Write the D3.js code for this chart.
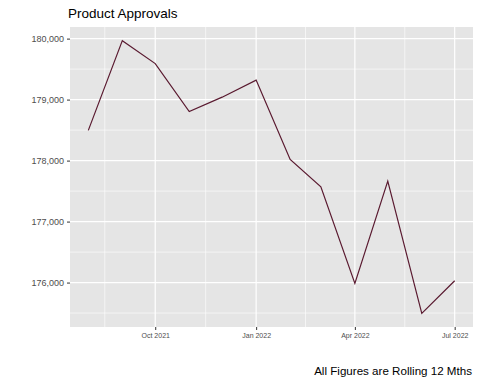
<!DOCTYPE html>
<html>
<head>
<meta charset="utf-8">
<script src="https://d3js.org/d3.v7.min.js"></script>
<style>
body { margin: 0; background: #fff; }
text { font-family: "Liberation Sans", Arial, sans-serif; }
</style>
</head>
<body>
<div id="chart"></div>
<script>
// monthly rolling totals
var months = ["2021-08-01", "2021-09-01", "2021-10-01", "2021-11-01", "2021-12-01", "2022-01-01",
              "2022-02-01", "2022-03-01", "2022-04-01", "2022-05-01", "2022-06-01", "2022-07-01"];
var approvals = [178495, 179967, 179590, 178803, 179040, 179320,
                 178020, 177570, 175987, 177664, 175495, 176030];
var xTicks = ["2021-10-01", "2022-01-01", "2022-04-01", "2022-07-01"];
var yTicks = [176000, 177000, 178000, 179000, 180000];

var W = 480, H = 384;
var margin = {top: 27, right: 7, bottom: 57, left: 70};
var width = W - margin.left - margin.right,
    height = H - margin.top - margin.bottom;

var parse = d3.timeParse("%Y-%m-%d");
var data = months.map(function(m, i) { return {date: parse(m), value: approvals[i]}; });

var svg = d3.select("#chart").append("svg")
  .attr("width", W).attr("height", H);

var g = svg.append("g")
  .attr("transform", "translate(" + margin.left + "," + margin.top + ")");

// ggplot-style 5% expansion
var xExt = d3.extent(data, function(d) { return d.date; });
var xPad = (xExt[1] - xExt[0]) * 0.05;
var x = d3.scaleTime()
  .domain([new Date(+xExt[0] - xPad), new Date(+xExt[1] + xPad)])
  .range([0, width]);

var yExt = d3.extent(approvals);
var yPad = (yExt[1] - yExt[0]) * 0.05;
var y = d3.scaleLinear()
  .domain([yExt[0] - yPad, yExt[1] + yPad])
  .range([height, 0]);

// panel
g.append("rect").attr("width", width).attr("height", height).attr("fill", "#e5e5e5");

var xMajor = xTicks.map(parse);
var xMinor = [];
for (var i = 0; i < xMajor.length - 1; i++) {
  xMinor.push(new Date((+xMajor[i] + +xMajor[i + 1]) / 2));
}
xMinor.unshift(new Date(+xMajor[0] - (xMajor[1] - xMajor[0]) / 2));
var yMinor = [];
for (var j = 0; j < yTicks.length - 1; j++) yMinor.push((yTicks[j] + yTicks[j + 1]) / 2);
yMinor.unshift(yTicks[0] - 500);

g.selectAll(".ymin").data(yMinor.filter(function(v) { return v > y.domain()[0]; })).enter().append("line")
  .attr("x1", 0).attr("x2", width)
  .attr("y1", function(d) { return y(d); }).attr("y2", function(d) { return y(d); })
  .attr("stroke", "#fff").attr("stroke-width", 0.6);
g.selectAll(".xmin").data(xMinor).enter().append("line")
  .attr("y1", 0).attr("y2", height)
  .attr("x1", function(d) { return x(d); }).attr("x2", function(d) { return x(d); })
  .attr("stroke", "#fff").attr("stroke-width", 0.6);
g.selectAll(".ymaj").data(yTicks).enter().append("line")
  .attr("x1", 0).attr("x2", width)
  .attr("y1", function(d) { return y(d); }).attr("y2", function(d) { return y(d); })
  .attr("stroke", "#fff").attr("stroke-width", 1.2);
g.selectAll(".xmaj").data(xMajor).enter().append("line")
  .attr("y1", 0).attr("y2", height)
  .attr("x1", function(d) { return x(d); }).attr("x2", function(d) { return x(d); })
  .attr("stroke", "#fff").attr("stroke-width", 1.2);

// line
var line = d3.line()
  .x(function(d) { return x(d.date); })
  .y(function(d) { return y(d.value); });
g.append("path").datum(data)
  .attr("d", line)
  .attr("fill", "none")
  .attr("stroke", "#5a1a30")
  .attr("stroke-width", 1.2);

// axes
var yAxis = g.append("g")
  .call(d3.axisLeft(y).tickValues(yTicks).tickSize(3).tickPadding(3).tickFormat(d3.format(",")));
yAxis.select(".domain").remove();
yAxis.selectAll("line").attr("stroke", "#333");
yAxis.selectAll("text").attr("fill", "#4d4d4d").style("font-size", "9px");

var xAxis = g.append("g")
  .attr("transform", "translate(0," + height + ")")
  .call(d3.axisBottom(x).tickValues(xMajor).tickSize(3).tickPadding(3).tickFormat(d3.timeFormat("%b %Y")));
xAxis.select(".domain").remove();
xAxis.selectAll("line").attr("stroke", "#333");
xAxis.selectAll("text").attr("fill", "#4d4d4d").style("font-size", "7px");

// title and caption
svg.append("text")
  .attr("x", margin.left - 2).attr("y", 18)
  .style("font-size", "13.5px").attr("fill", "#000")
  .text("Product Approvals");

svg.append("text")
  .attr("x", W - 8).attr("y", 375)
  .attr("text-anchor", "end")
  .style("font-size", "11.6px").attr("fill", "#000")
  .text("All Figures are Rolling 12 Mths");
</script>
</body>
</html>
